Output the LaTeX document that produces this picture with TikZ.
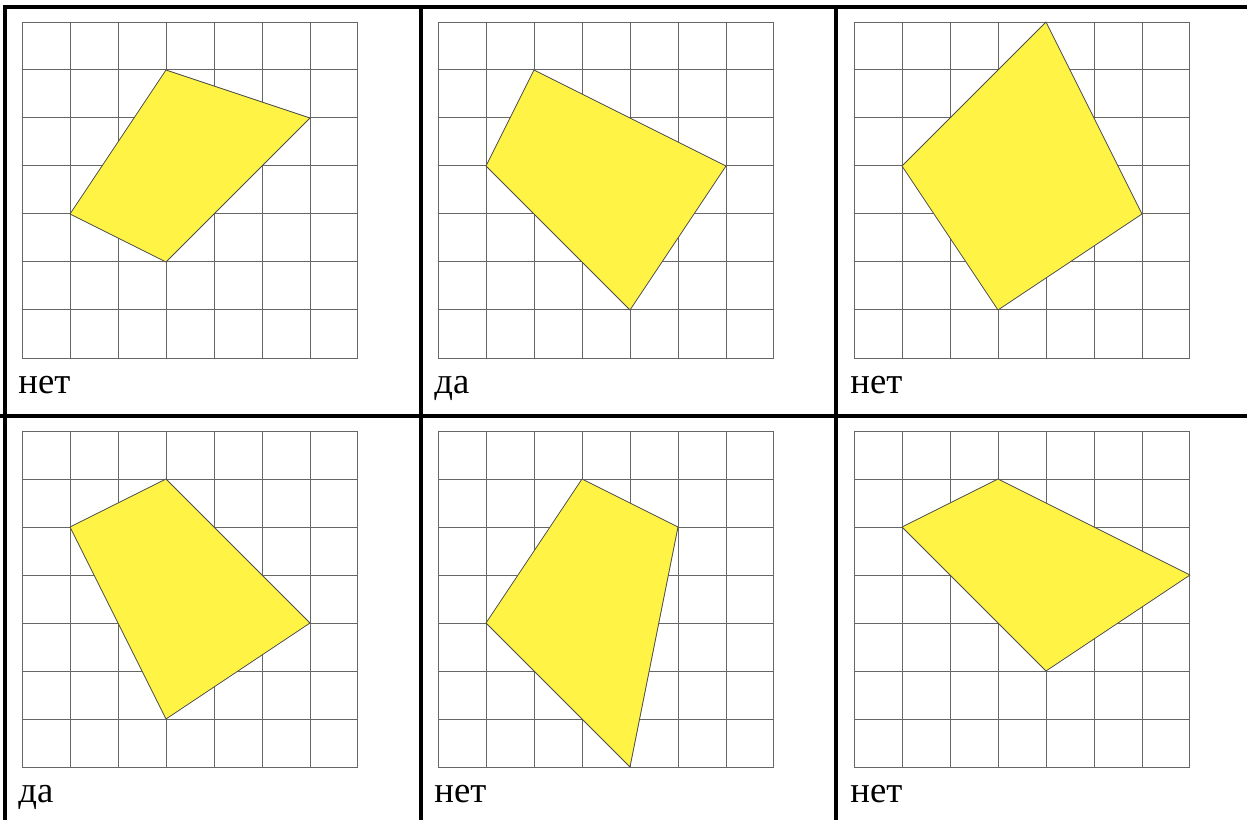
\documentclass[tikz,border=0pt]{standalone}
\usepackage{fontspec}
\setmainfont{Liberation Serif}
\definecolor{figfill}{RGB}{255,243,69}
\tikzset{
	gridline/.style={draw=black!60,line width=0.75pt},
	figure/.style={fill=figfill,draw=black!70,line width=0.6pt,line join=round},
	frameline/.style={line width=3pt},
	answer/.style={anchor=base west,inner sep=0pt,font=\fontsize{27.5}{33}\selectfont}
}
\begin{document}
\begin{tikzpicture}[x=0.75pt,y=-0.75pt]
	\useasboundingbox (0,0) rectangle (1247,820);
	\def\size{7}
		% table frame
		\draw [frameline] (5,820) -- (5,7) -- (1247,7);
		\draw [frameline] (0,416) -- (1247,416);
		\foreach \x in {420.5,836}
			\draw [frameline] (\x,7) -- (\x,820);
		% cells: origin / quadrilateral / answer
		\foreach \ox/\oy/\poly/\ans [count=\i] in {
			22/22/{(3,1) -- (6,2) -- (3,5) -- (1,4)}/нет,
			438/22/{(2,1) -- (6,3) -- (4,6) -- (1,3)}/да,
			854/22/{(4,0) -- (6,4) -- (3,6) -- (1,3)}/нет,
			22/431/{(3,1) -- (6,4) -- (3,6) -- (1,2)}/да,
			438/431/{(3,1) -- (5,2) -- (4,7) -- (1,4)}/нет,
			854/431/{(3,1) -- (7,3) -- (4,5) -- (1,2)}/нет}
		{
			\begin{scope}[shift={(\ox,\oy)},x=36pt,y=-36pt]
				\draw [gridline,step=36pt] (0,0) grid (\size,\size);
				\draw [figure] \poly -- cycle;
				\node [answer] (answer\i) at (-0.08,7.73) {\ans};
			\end{scope}
		}
\end{tikzpicture}
\end{document}
